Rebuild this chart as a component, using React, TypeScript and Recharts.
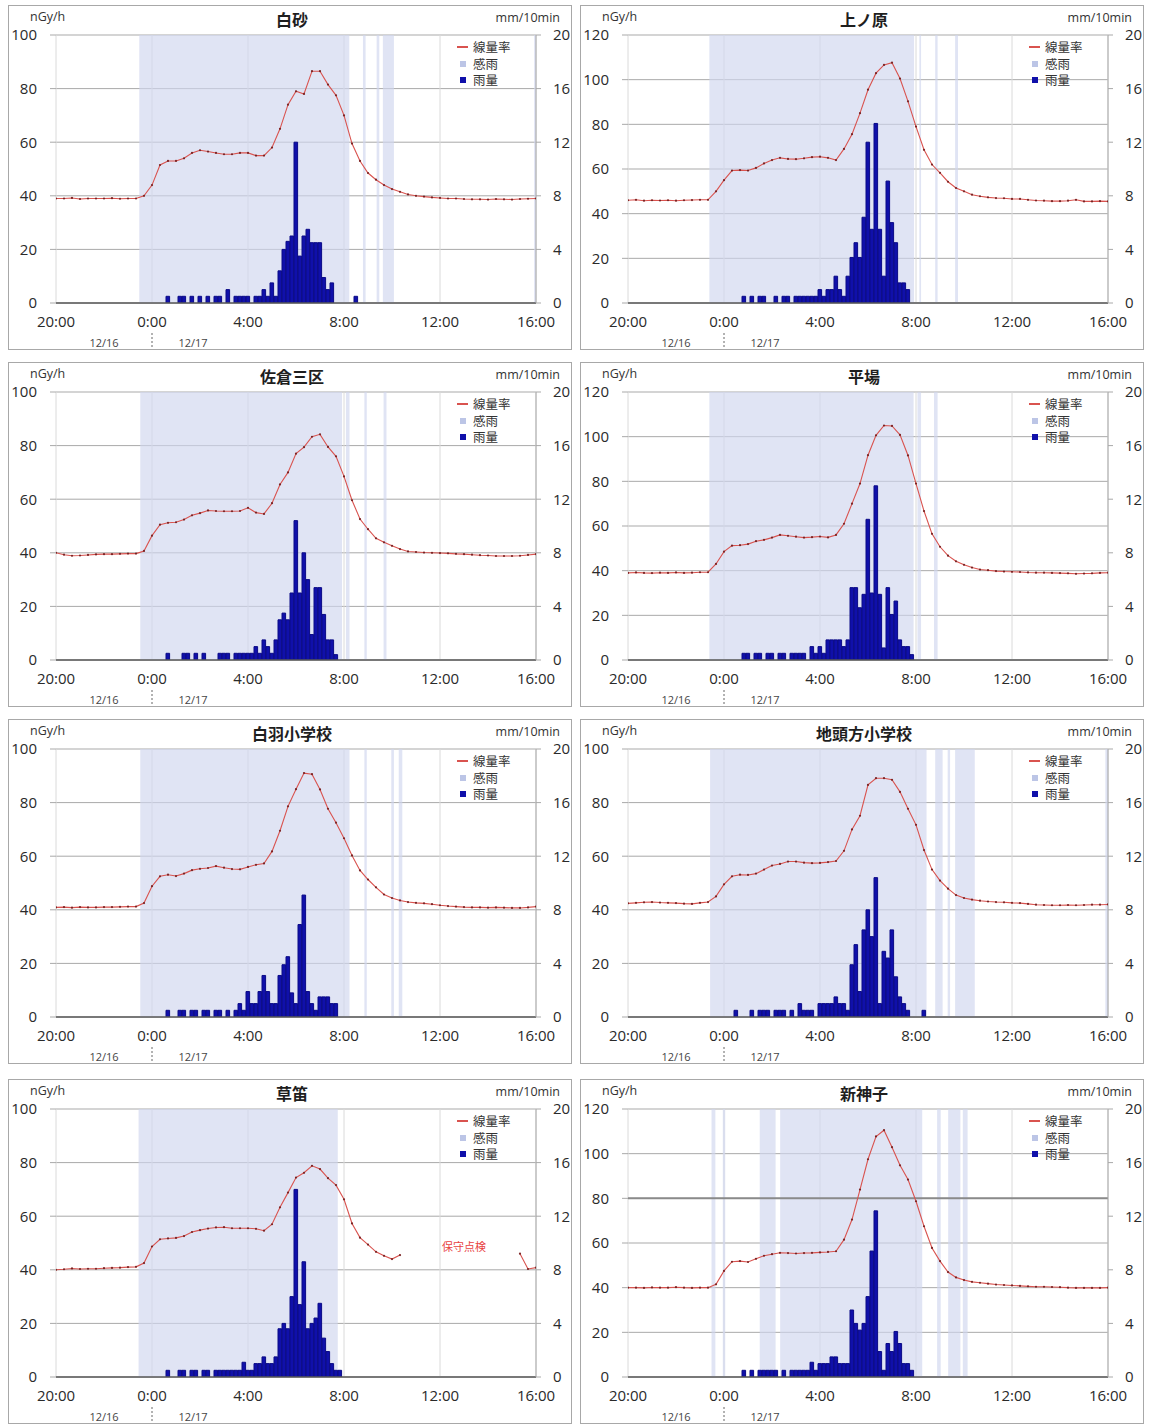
import React from 'react';
import {
  ComposedChart, Line, Bar, XAxis, YAxis, CartesianGrid,
  ReferenceArea, ReferenceLine, ReferenceDot,
} from 'recharts';

// ---- axis / label data ----
// time axis unit: hours since 20:00 on 12/16
const TIME_TICKS = [0, 4, 8, 12, 16, 20];
const TIME_LABELS = ['20:00', '0:00', '4:00', '8:00', '12:00', '16:00'];
const DATE_LABELS = ['12/16', '12/17'];
const DATE_SPLIT_TICK = 4;
const RAIN_TICKS = [0, 4, 8, 12, 16, 20];
const LEGEND_LABELS = ['線量率', '感雨', '雨量'];
const UNIT_LEFT = 'nGy/h';
const UNIT_RIGHT = 'mm/10min';
const STATION_NAMES = ['白砂', '上ノ原', '佐倉三区', '平場', '白羽小学校', '地頭方小学校', '草笛', '新神子'];
const DOSE_MAX = [100, 120, 100, 120, 100, 100, 100, 120];
const MAINT_NOTE = { station: 6, t: 17, v: 48.5, text: '保守点検' };
const STRONG_GRID = { station: 7, v: 80 };

// dose rate (nGy/h), every 20 min from 20:00 to 16:00 (61 values)
const SHIRASUNA_DOSE = [
  39, 39, 39.2, 38.8, 39, 39, 39, 39.1, 38.9, 39, 39,
  40, 44, 51.5, 53, 53, 54, 56, 57, 56.5, 56,
  55.5, 55.5, 56, 56, 55, 55, 58, 65, 74, 79,
  78, 86.5, 86.5, 81.5, 77.5, 70, 59.5, 53, 48.5, 46,
  44, 42.5, 41.5, 40.5, 40, 39.7, 39.4, 39.2, 39, 39,
  38.8, 38.7, 38.7, 38.6, 38.8, 38.7, 38.6, 38.8, 38.9, 39,
];
const UENOHARA_DOSE = [
  46, 46.2, 45.8, 46, 45.9, 46, 45.8, 46, 46.1, 46.2, 46.2,
  50, 55, 59.3, 59.5, 59.3, 60.5, 62.5, 64, 65, 64.5,
  64.4, 64.8, 65.3, 65.5, 65, 64, 69, 75.6, 85, 95.5,
  102.9, 106.6, 107.6, 100.5, 90.3, 79, 68.6, 62, 58.3, 54.3,
  51.5, 50, 48.5, 47.8, 47.3, 47, 46.9, 46.6, 46.6, 46.2,
  45.9, 45.8, 45.6, 45.6, 45.8, 46.2, 45.5, 45.5, 45.6, 45.5,
];
const SAKURA_DOSE = [
  40, 39.3, 38.9, 39, 39.2, 39.4, 39.5, 39.5, 39.6, 39.7, 39.7,
  40.7, 46.4, 50.5, 51.2, 51.4, 52.4, 54, 54.8, 55.8, 55.6,
  55.5, 55.5, 55.6, 56.8, 55, 54.5, 58.5, 65.5, 70, 77,
  79.4, 83.3, 84.2, 79.5, 76, 68.5, 59.6, 52.6, 48.8, 45.4,
  43.9, 42.6, 41.4, 40.5, 40.3, 40.1, 40, 39.9, 39.8, 39.6,
  39.5, 39.3, 39.1, 39, 38.8, 38.8, 38.8, 38.9, 39.2, 39.5,
];
const HIRABA_DOSE = [
  39, 39.2, 39, 38.9, 39.1, 39, 39.2, 39, 39.1, 39.3, 39.3,
  43, 48.5, 51.2, 51.4, 51.9, 53.2, 53.8, 54.8, 56, 55.6,
  55.2, 54.8, 55, 55.3, 54.9, 56, 61, 70, 79, 91.7,
  100.6, 105, 104.8, 100.8, 91.6, 79, 66.7, 56.5, 50.7, 46.7,
  44.2, 42.6, 41.4, 40.5, 40.2, 39.8, 39.6, 39.5, 39.4, 39.2,
  39.1, 39.1, 39, 38.9, 38.8, 38.6, 38.7, 38.8, 39, 39.1,
];
const SHIRAHANE_DOSE = [
  40.9, 41, 40.8, 41, 40.9, 40.9, 41, 41, 41.1, 41.2, 41.2,
  42.5, 48.8, 52.5, 53.1, 52.6, 53.5, 54.8, 55.3, 55.6, 56.3,
  55.7, 55.2, 55.1, 56, 56.8, 57.3, 61.8, 69.5, 78.6, 85,
  91, 90.6, 84.9, 77.7, 72.5, 66.7, 60.3, 54.7, 51.3, 48.4,
  45.7, 44.4, 43.5, 42.9, 42.6, 42.4, 42.1, 41.7, 41.4, 41.2,
  41, 40.9, 40.9, 40.8, 40.9, 40.8, 40.7, 40.7, 40.9, 41.2,
];
const JITOGATA_DOSE = [
  42.4, 42.6, 42.8, 42.9, 42.7, 42.6, 42.5, 42.3, 42.2, 42.6, 42.9,
  45, 49.5, 52.5, 53.1, 53, 53.5, 55, 56.5, 57.1, 58,
  58, 57.6, 57.4, 57.5, 57.8, 58.2, 62, 70, 75.1, 86.6,
  89.1, 89.1, 88.5, 84, 77.7, 71.7, 62.3, 55, 50.9, 47.9,
  45.5, 44.4, 43.8, 43.4, 43.1, 42.9, 42.8, 42.6, 42.5, 42.2,
  41.9, 41.8, 41.7, 41.7, 41.8, 41.7, 41.8, 41.9, 41.9, 42,
];
const KUSABUE_DOSE = [
  40, 40.2, 40.5, 40.3, 40.4, 40.4, 40.6, 40.7, 40.8, 41, 41.1,
  42.5, 48.7, 51.4, 51.7, 51.9, 52.6, 54.1, 54.8, 55.4, 55.8,
  55.9, 55.5, 55.5, 55.5, 55.3, 54.6, 57, 63.3, 68.8, 74.4,
  76.2, 78.8, 77.6, 74.2, 71.6, 66.3, 57.3, 52, 49.4, 46.7,
  45.2, 44, 45.5, null, null, null, null, null, null, null,
  null, null, null, null, null, null, null, 46, 40.3, 40.8,
];
const SHINMIKO_DOSE = [
  40, 40, 39.9, 40.1, 40, 40, 40.2, 40, 39.9, 40, 40,
  41.5, 47.5, 51.6, 51.9, 51.5, 52.9, 54.3, 55, 55.6, 55.5,
  55.3, 55.5, 55.6, 55.8, 56, 56.3, 61.5, 70.5, 83.9, 97.5,
  107.7, 110.5, 102.9, 94.8, 88.4, 78.7, 67.5, 57.8, 51.9, 47,
  44.6, 43.4, 42.6, 42.2, 41.8, 41.4, 41.2, 41, 40.8, 40.6,
  40.4, 40.4, 40.3, 40.2, 40, 39.9, 39.9, 39.9, 39.9, 40,
];

// rainfall (mm/10min), every 10 min from 0:30 to 8:30 (49 values)
const SHIRASUNA_RAIN = [
  0, 0.5, 0, 0, 0.5, 0.5, 0, 0.5, 0, 0.5, 0, 0.5, 0, 0.5, 0.5,
  0, 1, 0, 0.5, 0.5, 0.5, 0.5, 0, 0.5, 0.5, 1, 0.5,
  1.5, 0.5, 2.4, 4, 4.6, 5, 12, 3.5, 5, 5.5, 4.5, 4.5,
  4.5, 1.9, 1, 1.5, 0, 0, 0, 0, 0, 0.5,
];
const UENOHARA_RAIN = [
  0, 0, 0.5, 0, 0.5, 0, 0.5, 0.5, 0, 0, 0.5, 0, 0.5, 0.5, 0,
  0.5, 0.5, 0.5, 0.5, 0.5, 0.5, 1, 0.5, 1, 1, 2, 1,
  0.5, 2, 3.4, 4.5, 3.4, 6.4, 12, 5.5, 13.4, 5.5, 2, 9.1,
  6, 4.5, 1.5, 1.5, 1, 0, 0, 0, 0, 0,
];
const SAKURA_RAIN = [
  0, 0.5, 0, 0, 0, 0.5, 0.5, 0, 0.5, 0, 0.5, 0, 0, 0, 0.5,
  0.5, 0.5, 0, 0.5, 0.5, 0.5, 0.5, 0.5, 1, 0.5, 1.5, 1,
  0.5, 1.5, 3, 3.5, 3, 5, 10.4, 5, 8, 6, 1.9, 5.4,
  5.4, 3.4, 1.5, 1.5, 0.4, 0, 0, 0, 0, 0,
];
const HIRABA_RAIN = [
  0, 0, 0.5, 0.5, 0, 0.5, 0.5, 0, 0.5, 0.5, 0, 0.5, 0.5, 0, 0.5,
  0.5, 0.5, 0.5, 0, 1, 0.5, 1, 0.5, 1.5, 1.5, 1.5, 1.5,
  1, 1.5, 5.4, 5.4, 3.9, 4.9, 10.5, 5, 13, 4.9, 0.9, 5.4,
  3.4, 4.4, 1.5, 1, 1, 0.4, 0, 0, 0, 0,
];
const SHIRAHANE_RAIN = [
  0, 0.5, 0, 0, 0.5, 0.5, 0, 0.5, 0.5, 0, 0.5, 0.5, 0, 0.5, 0.5,
  0, 0.5, 0, 0.5, 1, 0.5, 1.9, 1, 1, 1.9, 3.1, 1.9,
  1, 1, 3.1, 3.9, 4.5, 1.8, 1, 6.9, 9.1, 1.9, 1, 0.5,
  1.5, 1.5, 1.5, 1, 1, 0, 0, 0, 0, 0,
];
const JITOGATA_RAIN = [
  0.5, 0, 0, 0, 0.5, 0, 0.5, 0.5, 0.5, 0, 0.5, 0.5, 0.5, 0, 0.5,
  0, 1, 0.5, 0.5, 0.5, 0, 1, 1, 1, 1, 1.5, 1,
  1, 0.5, 3.9, 5.4, 1.9, 6.5, 8, 6, 10.4, 1, 4.9, 4.4,
  6.5, 3, 1.5, 1, 0.5, 0, 0, 0, 0.5, 0,
];
const KUSABUE_RAIN = [
  0, 0.5, 0, 0, 0.5, 0.5, 0, 0.5, 0.5, 0, 0.5, 0.5, 0, 0.5, 0.5,
  0.5, 0.5, 0.5, 0.5, 0.5, 1.1, 0.5, 0.5, 1, 1, 1.5, 1,
  1, 1.5, 3.6, 4, 3.6, 6, 14, 5.4, 8.6, 3.6, 4, 4.4,
  5.5, 2.9, 1.9, 1, 0.5, 0.5, 0, 0, 0, 0,
];
const SHINMIKO_RAIN = [
  0, 0, 0.5, 0, 0.5, 0, 0.5, 0.5, 0.5, 0.5, 0.5, 0, 0.5, 0, 0.5,
  0.5, 0.5, 0.5, 0.5, 1.1, 0.5, 1, 1, 1, 1.5, 1.5, 1,
  1, 1, 5, 4, 3.5, 4, 6, 9.4, 12.4, 1.9, 0.5, 2.5,
  1.9, 3.4, 2.5, 1, 1, 0.5, 0, 0, 0, 0,
];

// rain-sensing (感雨) periods: [start, end] in hours since 20:00
const SHIRASUNA_SENSE = [[3.47, 12.22], [12.79, 12.9], [13.36, 13.47], [13.62, 14.08], [19.92, 20]];
const UENOHARA_SENSE = [[3.39, 11.92], [12.14, 12.21], [12.8, 12.9], [13.63, 13.75]];
const SAKURA_SENSE = [[3.51, 11.92], [12.08, 12.23], [12.85, 12.95], [13.65, 13.77]];
const HIRABA_SENSE = [[3.39, 11.9], [12.06, 12.21], [12.75, 12.9]];
const SHIRAHANE_SENSE = [[3.51, 12.23], [12.85, 12.95], [13.97, 14.08], [14.28, 14.43]];
const JITOGATA_SENSE = [[3.42, 12.44], [12.8, 13.11], [13.32, 13.42], [13.63, 14.45], [19.89, 20]];
const KUSABUE_SENSE = [[3.44, 11.74]];
const SHINMIKO_SENSE = [[3.48, 3.64], [3.95, 4.05], [5.49, 6.15], [6.34, 12.26], [12.88, 13.03], [13.34, 13.85], [13.95, 14.15]];

const DOSE_SERIES = [SHIRASUNA_DOSE, UENOHARA_DOSE, SAKURA_DOSE, HIRABA_DOSE, SHIRAHANE_DOSE, JITOGATA_DOSE, KUSABUE_DOSE, SHINMIKO_DOSE];
const RAIN_SERIES = [SHIRASUNA_RAIN, UENOHARA_RAIN, SAKURA_RAIN, HIRABA_RAIN, SHIRAHANE_RAIN, JITOGATA_RAIN, KUSABUE_RAIN, SHINMIKO_RAIN];
const SENSE_SERIES = [SHIRASUNA_SENSE, UENOHARA_SENSE, SAKURA_SENSE, HIRABA_SENSE, SHIRAHANE_SENSE, JITOGATA_SENSE, KUSABUE_SENSE, SHINMIKO_SENSE];

const DOSE_STEPS_PER_HOUR = 3;
const RAIN_STEPS_PER_HOUR = 6;
const RAIN_START_H = 4.5;

// ---- layout / style ----
const PANEL_W = 564;
const PANEL_H = 345;
const PANEL_LEFTS = [8, 580];
const PANEL_TOPS = [5, 362, 719, 1079];
const CJK = "'Noto Sans CJK JP', 'Noto Sans', sans-serif";
const LATIN = "'Open Sans', 'DejaVu Sans', sans-serif";
const LINE_COLOR = '#d9534f';
const DOT_COLOR = '#7a2424';
const RAIN_COLOR = '#1010aa';
const RAIN_EDGE = '#0a0a86';
const SENSE_COLOR = '#d0d6ee';
const TEXT_COLOR = '#2a2a2a';

function buildRows(dose: (number | null)[], rain: number[]) {
  let seg = -1;
  let prevNull = true;
  const segOf = dose.map((v) => {
    if (v == null) { prevNull = true; return -1; }
    if (prevNull) { seg += 1; prevNull = false; }
    return seg;
  });
  const nRows = 20 * RAIN_STEPS_PER_HOUR;
  const rainOffset = RAIN_START_H * RAIN_STEPS_PER_HOUR;
  const ratio = RAIN_STEPS_PER_HOUR / DOSE_STEPS_PER_HOUR;
  const rows: any[] = [];
  for (let k = 0; k <= nRows; k++) {
    const row: any = { t: k / RAIN_STEPS_PER_HOUR };
    if (k % ratio === 0) {
      const i = k / ratio;
      const v = dose[i];
      if (v != null) row['dose' + segOf[i]] = v;
    }
    const r = k - rainOffset;
    if (r >= 0 && r < rain.length && rain[r] > 0) row.rain = rain[r];
    rows.push(row);
  }
  return { rows, segCount: seg + 1 };
}

function TimeTick(props: any) {
  const { x, y, payload } = props;
  const idx = TIME_TICKS.indexOf(payload.value);
  const label = idx >= 0 ? TIME_LABELS[idx] : '';
  return (
    <g>
      <text x={x} y={y + 24} textAnchor="middle" fontSize={15} fill={TEXT_COLOR} fontFamily={LATIN}>
        {label}
      </text>
      {payload.value === DATE_SPLIT_TICK && (
        <g>
          <line x1={x} x2={x} y1={y + 30} y2={y + 48} stroke="#666" strokeWidth={1} strokeDasharray="2 2" />
          <text x={x - 48} y={y + 44} textAnchor="middle" fontSize={11} fill="#444" fontFamily={LATIN}>
            {DATE_LABELS[0]}
          </text>
          <text x={x + 41} y={y + 44} textAnchor="middle" fontSize={11} fill="#444" fontFamily={LATIN}>
            {DATE_LABELS[1]}
          </text>
        </g>
      )}
    </g>
  );
}

function Panel({ index, left, top }: { index: number; left: number; top: number }) {
  const yMax = DOSE_MAX[index];
  const { rows, segCount } = buildRows(DOSE_SERIES[index], RAIN_SERIES[index]);
  const leftTicks: number[] = [];
  for (let v = 0; v <= yMax; v += 20) leftTicks.push(v);
  const segKeys = Array.from({ length: segCount }, (_, i) => 'dose' + i);
  const sense = SENSE_SERIES[index];
  const tickStyle = { fontSize: 15, fill: TEXT_COLOR, fontFamily: LATIN };

  return (
    <div style={{ position: 'absolute', left, top, width: PANEL_W, height: PANEL_H }}>
      <ComposedChart width={PANEL_W} height={PANEL_H} data={rows} margin={{ top: 30, right: 6, bottom: 7, left: 8 }}>
        <CartesianGrid yAxisId="left" vertical={false} stroke="#a9a9a9" />
        <CartesianGrid yAxisId="left" horizontal={false} stroke="#dadada" />
        {sense.map(([a, b], i) => (
          <ReferenceArea
            key={'s' + i}
            yAxisId="left"
            x1={a}
            x2={b}
            y1={0}
            y2={yMax}
            fill={SENSE_COLOR}
            fillOpacity={0.66}
            stroke="none"
          />
        ))}
        {STRONG_GRID.station === index && (
          <ReferenceLine yAxisId="left" y={STRONG_GRID.v} stroke="#8a8a8a" strokeWidth={2} />
        )}
        <XAxis
          dataKey="t"
          type="number"
          domain={[0, 20]}
          ticks={TIME_TICKS}
          interval={0}
          allowDataOverflow
          tickLine={false}
          tickSize={0}
          tickMargin={0}
          axisLine={{ stroke: '#5a5a5a', strokeWidth: 1.5 }}
          height={40}
          tick={(p: any) => <TimeTick {...p} />}
        />
        <YAxis
          yAxisId="left"
          domain={[0, yMax]}
          ticks={leftTicks}
          interval={0}
          allowDataOverflow
          axisLine={false}
          tickLine={{ stroke: '#a9a9a9' }}
          tickSize={6}
          tickMargin={13}
          width={40}
          tick={tickStyle}
        />
        <YAxis
          yAxisId="right"
          orientation="right"
          domain={[0, 20]}
          ticks={RAIN_TICKS}
          interval={0}
          allowDataOverflow
          axisLine={{ stroke: '#a9a9a9' }}
          tickLine={{ stroke: '#a9a9a9' }}
          tickSize={5}
          tickMargin={12}
          width={30}
          tick={tickStyle}
        />
        <Bar
          yAxisId="right"
          dataKey="rain"
          fill={RAIN_COLOR}
          stroke={RAIN_EDGE}
          strokeWidth={1}
          barSize={4}
          isAnimationActive={false}
        />
        {segKeys.map((k) => (
          <Line
            key={k}
            yAxisId="left"
            dataKey={k}
            type="linear"
            stroke={LINE_COLOR}
            strokeWidth={1.1}
            dot={{ r: 1.1, fill: DOT_COLOR, stroke: 'none' }}
            activeDot={false}
            connectNulls
            isAnimationActive={false}
          />
        ))}
        {MAINT_NOTE.station === index && (
          <ReferenceDot
            yAxisId="left"
            x={MAINT_NOTE.t}
            y={MAINT_NOTE.v}
            r={0}
            fill="none"
            stroke="none"
            label={{ value: MAINT_NOTE.text, fill: '#e8423f', fontSize: 11, fontFamily: CJK, position: 'center' }}
          />
        )}
      </ComposedChart>
      <div
        style={{
          position: 'absolute', left: 0, top: 0, width: PANEL_W, height: PANEL_H,
          border: '1px solid #a8a8a8', boxSizing: 'border-box', pointerEvents: 'none',
        }}
      />
      <div
        style={{
          position: 'absolute', left: 184, top: 4, width: 200, textAlign: 'center',
          fontFamily: CJK, fontWeight: 700, fontSize: 16, lineHeight: '20px', color: '#1e1e1e',
        }}
      >
        {STATION_NAMES[index]}
      </div>
      <div style={{ position: 'absolute', left: 22, top: 4, fontFamily: LATIN, fontSize: 12.5, lineHeight: '16px', color: '#333' }}>
        {UNIT_LEFT}
      </div>
      <div
        style={{
          position: 'absolute', right: 12, top: 5, fontFamily: LATIN, fontSize: 12.5, lineHeight: '16px', color: '#333',
          textAlign: 'right',
        }}
      >
        {UNIT_RIGHT}
      </div>
      <div style={{ position: 'absolute', left: 449, top: 34, fontFamily: CJK, fontSize: 12.5, lineHeight: '16.5px', color: '#333' }}>
        {LEGEND_LABELS.map((lab, i) => (
          <div key={lab} style={{ display: 'flex', alignItems: 'center', height: 16.5 }}>
            {i === 0 ? (
              <span style={{ display: 'inline-block', width: 11, height: 2, background: LINE_COLOR, marginRight: 5 }} />
            ) : (
              <span
                style={{
                  display: 'inline-block', width: 6, height: 6, marginLeft: 3, marginRight: 7,
                  background: i === 1 ? '#bcc5e6' : RAIN_COLOR,
                }}
              />
            )}
            <span>{lab}</span>
          </div>
        ))}
      </div>
    </div>
  );
}

export default function App() {
  return (
    <div
      style={{
        position: 'absolute', left: 0, top: 0, width: 1151, height: 1425,
        background: '#ffffff', fontFamily: LATIN, overflow: 'hidden',
      }}
    >
      {STATION_NAMES.map((_, i) => (
        <Panel key={i} index={i} left={PANEL_LEFTS[i % 2]} top={PANEL_TOPS[Math.floor(i / 2)]} />
      ))}
    </div>
  );
}
